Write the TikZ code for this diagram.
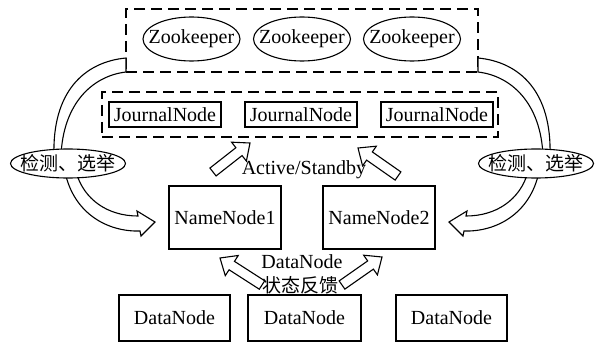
\documentclass[tikz,border=0pt]{standalone}
\usepackage{fontspec}
\setmainfont{Liberation Serif}
\newfontfamily\cjk{Noto Sans CJK SC}
\usetikzlibrary{calc,shapes.geometric}

% straight hollow block arrow from #1 (tail) to #2 (tip)
\newcommand\blockarr[2]{%
  \coordinate (hb) at ($(#2)!14pt!(#1)$);
  \draw[blk] ($(#1)!5pt!-90:(#2)$) -- ($(hb)!5pt!-90:(#2)$)
    -- ($(hb)!12pt!-90:(#2)$) -- (#2) -- ($(hb)!12pt!90:(#2)$)
    -- ($(hb)!5pt!90:(#2)$) -- ($(#1)!5pt!90:(#2)$) -- cycle;
}

\tikzset{
  base/.style={line width=1.1pt, font=\fontsize{20}{24}\selectfont},
  dashbox/.style={draw, dash pattern=on 11pt off 6pt, line width=1.1pt, inner sep=0pt},
  zk/.style={ellipse, draw, fill=white, minimum width=97pt, minimum height=44pt,
    inner xsep=-30pt, inner ysep=-15pt},
  jn/.style={rectangle, draw, fill=white, minimum width=112pt, minimum height=25pt, inner sep=0pt},
  nnbox/.style={rectangle, draw, fill=white, minimum width=112pt, minimum height=63pt, inner sep=0pt},
  dnbox/.style={rectangle, draw, fill=white, minimum width=112pt, minimum height=46pt, inner sep=0pt},
  det/.style={ellipse, draw, fill=white, minimum width=115pt, minimum height=29pt,
    inner xsep=-30pt, inner ysep=-15pt, font=\fontsize{19}{22}\cjk},
  blk/.style={draw, fill=white, line width=1.1pt, line join=miter},
  lbl/.style={inner sep=0pt},
}

\begin{document}
\begin{tikzpicture}[x=1pt, y=-1pt, base]
\useasboundingbox (0,0) rectangle (602,342);

% ZooKeeper cluster
\node[dashbox, minimum width=352pt, minimum height=63pt] (zkgroup) at (302,40.5) {};
\node[zk] (zk1) at (191.5,39) {Zookeeper};
\node[zk] (zk2) at (302,39) {Zookeeper};
\node[zk] (zk3) at (412,39) {Zookeeper};

% JournalNode cluster
\node[dashbox, minimum width=396pt, minimum height=45pt] (jngroup) at (300,114.5) {};
\node[jn] (jn1) at (165,114.5) {JournalNode};
\node[jn] (jn2) at (301,114.5) {JournalNode};
\node[jn] (jn3) at (437,114.5) {JournalNode};

% NameNodes
\node[nnbox] (nn1) at (225,217.5) {NameNode1};
\node[nnbox] (nn2) at (379,217.5) {NameNode2};

% DataNodes
\node[dnbox, minimum width=111pt] (dn1) at (174.5,318) {DataNode};
\node[dnbox, minimum width=113pt] (dn2) at (304.5,318) {DataNode};
\node[dnbox, minimum width=111pt] (dn3) at (451.5,318) {DataNode};

% curved hollow arrows on both sides (right side mirrored)
\foreach \side in {0,1}{
  \begin{scope}[shift={(604*\side,0)}, xscale=1-2*\side]
    % band from the detector up to the ZooKeeper cluster
    \draw[blk] (54,156) .. controls (52,92) and (84,62) .. (126,58)
      -- (126,72) .. controls (92,76) and (63,104) .. (61,156) -- cycle;
    % arrow from the detector to the NameNode
    \draw[blk] (65,172) .. controls (74,214) and (108,232) .. (140,231)
      -- (141,236) -- (155,222) -- (137,211) -- (138,216)
      .. controls (108,216) and (84,200) .. (76,172) -- cycle;
  \end{scope}
}
\node[det] (det1) at (68,163.5) {检测、选举};
\node[det] (det2) at (536,163.5) {检测、选举};

% Active/Standby arrows
\coordinate (as1t) at (213,172);
\coordinate (as1h) at (250,143);
\coordinate (as2t) at (398,176);
\coordinate (as2h) at (358,148);
\blockarr{as1t}{as1h}
\blockarr{as2t}{as2h}
\node[lbl] (aslabel) at (304,170) {Active/Standby};

% DataNode status feedback arrows
\coordinate (fb1t) at (262,285);
\coordinate (fb1h) at (220,258);
\coordinate (fb2t) at (342,285);
\coordinate (fb2h) at (382,257);
\blockarr{fb1t}{fb1h}
\blockarr{fb2t}{fb2h}
\node[lbl] (fblabel1) at (302,262) {DataNode};
\node[lbl, font=\fontsize{19}{22}\cjk] (fblabel2) at (300,285) {状态反馈};
\end{tikzpicture}
\end{document}
